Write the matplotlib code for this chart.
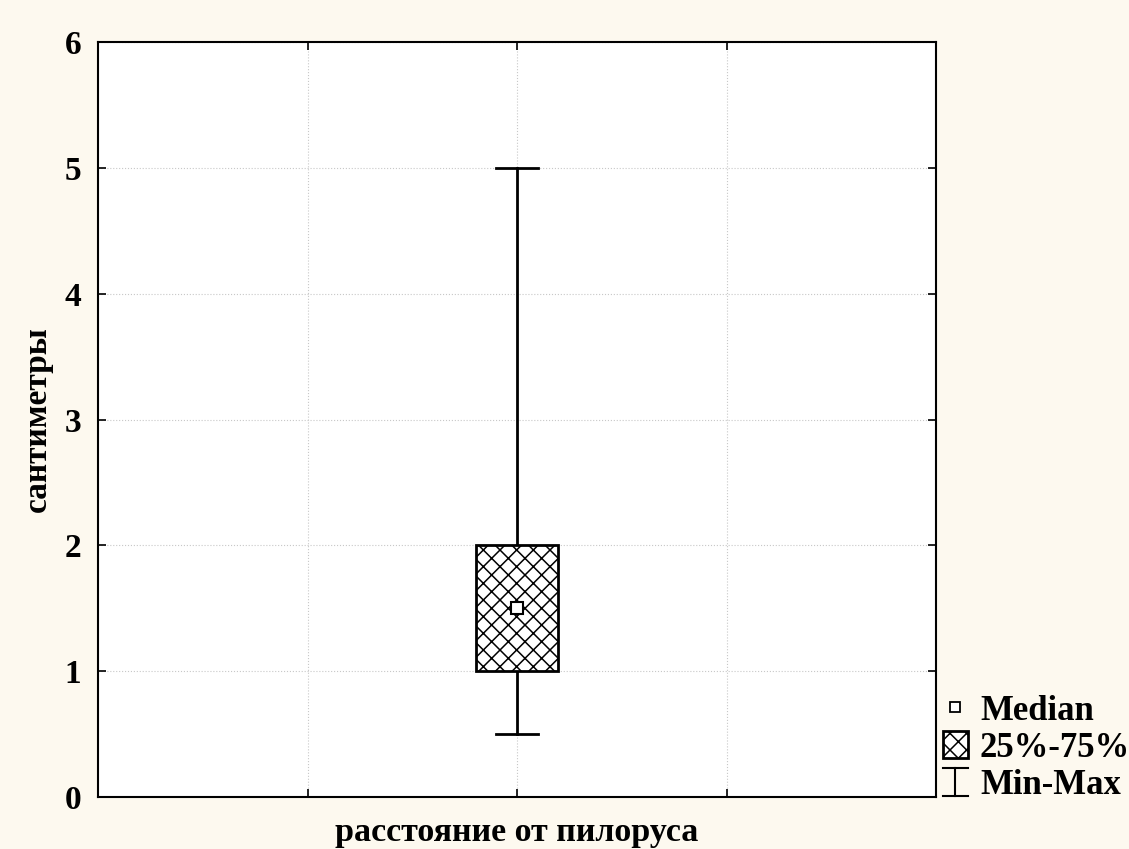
import matplotlib
matplotlib.use("Agg")
import matplotlib.pyplot as plt
from matplotlib.patches import Rectangle, Patch
from matplotlib.lines import Line2D
from matplotlib.legend_handler import HandlerBase

# Summary statistics for the single variable
category = "расстояние от пилоруса"
minimum = 0.5
q1 = 1.0
median = 1.5
q3 = 2.0
maximum = 5.0
y_ticks = [0, 1, 2, 3, 4, 5, 6]
legend_labels = ["Median", "25%-75%", "Min-Max"]

plt.rcParams["font.family"] = ["Liberation Serif", "DejaVu Serif"]
plt.rcParams["font.weight"] = "bold"
plt.rcParams["hatch.linewidth"] = 1.1

bg = "#FDF9EF"
fig = plt.figure(figsize=(11.29, 8.49), dpi=100, facecolor=bg)
ax = fig.add_axes([0.0868, 0.0612, 0.7423, 0.8893])
ax.set_facecolor("white")

xpos = 2.0
box_w = 0.39
cap_w = 0.2

# whiskers
ax.plot([xpos, xpos], [q3, maximum], color="black", lw=2, zorder=3)
ax.plot([xpos, xpos], [minimum, q1], color="black", lw=2, zorder=3)
ax.plot([xpos - cap_w / 2, xpos + cap_w / 2], [maximum, maximum], color="black", lw=2, zorder=3)
ax.plot([xpos - cap_w / 2, xpos + cap_w / 2], [minimum, minimum], color="black", lw=2, zorder=3)

# interquartile box
ax.add_patch(Rectangle((xpos - box_w / 2, q1), box_w, q3 - q1, facecolor="white",
                       edgecolor="black", hatch="xx", lw=2, zorder=4))
# median
ax.plot([xpos], [median], marker="s", markersize=8, markerfacecolor="white",
        markeredgecolor="black", markeredgewidth=1.5, zorder=5)

ax.set_xlim(0, 4)
ax.set_ylim(0, 6)
ax.set_yticks(y_ticks)
ax.set_yticklabels([str(t) for t in y_ticks], fontsize=24, fontweight="bold")
ax.set_xticks([1, 2, 3])
ax.set_xticklabels([])
ax.tick_params(direction="in", length=6, width=1.2, top=True, right=True, pad=12)
ax.grid(True, linestyle=":", color="#c8c8c8", lw=0.8)
ax.set_axisbelow(True)
for s in ax.spines.values():
    s.set_linewidth(1.5)

ax.set_xlabel(category, fontsize=24.5, fontweight="bold")
ax.xaxis.set_label_coords(0.5, -0.027)
ax.set_ylabel("сантиметры", fontsize=24, fontweight="bold")
ax.yaxis.set_label_coords(-0.054, 0.5)


class HandlerMinMax(HandlerBase):
    def create_artists(self, legend, orig_handle, xdescent, ydescent, width, height,
                       fontsize, trans):
        cx = width / 2 - xdescent
        top = height * 0.98
        bot = -height * 0.1
        hw = width * 0.5
        return [
            Line2D([cx, cx], [bot, top], color="black", lw=1.5, transform=trans),
            Line2D([cx - hw, cx + hw], [top, top], color="black", lw=1.5, transform=trans),
            Line2D([cx - hw, cx + hw], [bot, bot], color="black", lw=1.5, transform=trans),
        ]


h_med = Line2D([], [], marker="s", linestyle="none", markersize=7,
               markerfacecolor="white", markeredgecolor="black", markeredgewidth=1.3)
h_box = Patch(facecolor="white", edgecolor="black", hatch="xx", lw=2)
h_mm = object()
leg = ax.legend([h_med, h_box, h_mm], legend_labels, handler_map={h_mm: HandlerMinMax()},
                loc="lower left", bbox_to_anchor=(1.008, -0.006), frameon=False,
                prop={"family": "Liberation Serif", "weight": "bold", "size": 25},
                handlelength=0.72, handleheight=0.8, handletextpad=0.35,
                labelspacing=0.1, borderaxespad=0, borderpad=0)

fig.savefig("out.png", dpi=100, facecolor=bg)
